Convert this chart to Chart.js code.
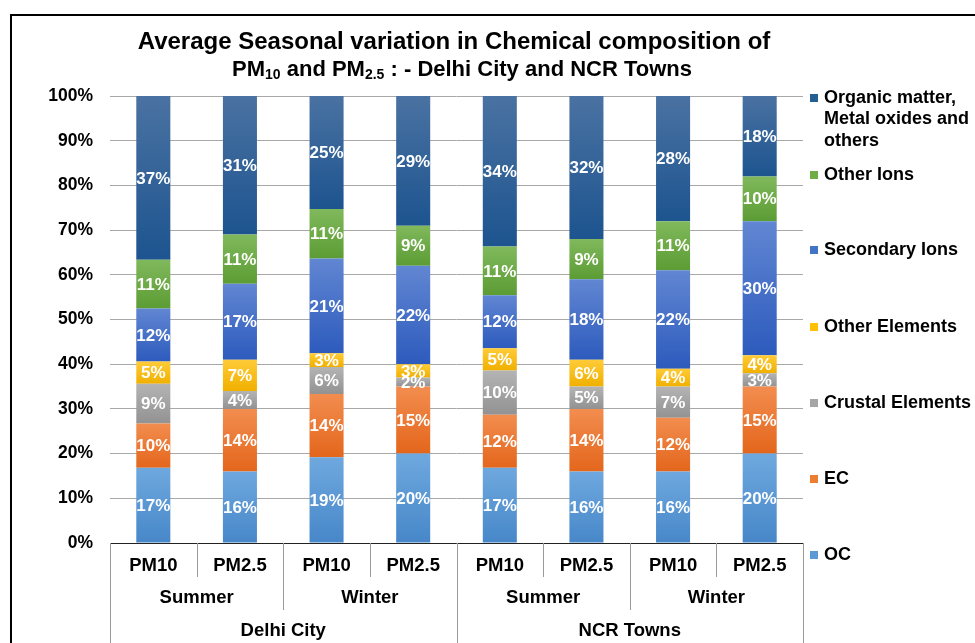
<!DOCTYPE html>
<html>
<head>
    <title>Chemical composition PM10 / PM2.5</title>
    <style>
        body { margin: 0; background: #fff; }
        canvas { display: block; }
    </style>
    <script src="https://cdn.jsdelivr.net/npm/chart.js"></script>
</head>
<body>
    <canvas id="chart" width="975" height="643"></canvas>

    <script>
        // x-axis labels, three levels
        const categories = ['PM10', 'PM2.5', 'PM10', 'PM2.5', 'PM10', 'PM2.5', 'PM10', 'PM2.5'];
        const seasons = ['Summer', 'Winter', 'Summer', 'Winter'];
        const regions = ['Delhi City', 'NCR Towns'];

        // series values (%), bottom of the stack first
        const seriesNames = ['OC', 'EC', 'Crustal Elements', 'Other Elements', 'Secondary Ions', 'Other Ions',
            'Organic matter, Metal oxides and others'];
        const oc        = [17, 16, 19, 20, 17, 16, 16, 20];
        const ec        = [10, 14, 14, 15, 12, 14, 12, 15];
        const crustal   = [9, 4, 6, 2, 10, 5, 7, 3];
        const otherElem = [5, 7, 3, 3, 5, 6, 4, 4];
        const secIons   = [12, 17, 21, 22, 12, 18, 22, 30];
        const otherIons = [11, 11, 11, 9, 11, 9, 11, 10];
        const organic   = [37, 31, 25, 29, 34, 32, 28, 18];

        const yTicks = [0, 10, 20, 30, 40, 50, 60, 70, 80, 90, 100];

        const series = [oc, ec, crustal, otherElem, secIons, otherIons, organic];
        // [top colour, bottom colour, legend colour]
        const colours = [
            ['#6ea8de', '#4787c9', '#5b9bd5'],
            ['#f28d4f', '#e4661c', '#ed7d31'],
            ['#b4b4b4', '#929292', '#a5a5a5'],
            ['#ffcb38', '#f0b000', '#ffc000'],
            ['#6186d2', '#2d5bbd', '#4472c4'],
            ['#80b95c', '#5c9c34', '#70ad47'],
            ['#4a72a2', '#1d548f', '#255e91']
        ];
        const legendLines = [
            ['OC'], ['EC'], ['Crustal Elements'], ['Other Elements'], ['Secondary Ions'], ['Other Ions'],
            ['Organic matter,', 'Metal oxides and', 'others']
        ];
        const legendY = [555, 479, 403, 327, 250, 175, 98];

        // 100% stacking: scale each bar to its total
        const totals = categories.map((c, i) => series.reduce((s, arr) => s + arr[i], 0));
        const norm = series.map(arr => arr.map((v, i) => v / totals[i] * 100));

        const FONT = '"Liberation Sans", Arial, sans-serif';

        const datasets = series.map((arr, d) => ({
            label: seriesNames[d],
            data: norm[d],
            raw: arr,
            barPercentage: 1,
            categoryPercentage: 0.393,
            backgroundColor: function (ctx) {
                const chart = ctx.chart;
                const y = chart.scales.y;
                if (!y || ctx.type !== 'data') return colours[d][2];
                const i = ctx.dataIndex;
                let start = 0;
                for (let k = 0; k < d; k++) start += norm[k][i];
                const end = start + norm[d][i];
                const y0 = y.getPixelForValue(end), y1 = y.getPixelForValue(start);
                if (!isFinite(y0) || !isFinite(y1)) return colours[d][2];
                const g = chart.ctx.createLinearGradient(0, y0, 0, y1);
                g.addColorStop(0, colours[d][0]);
                g.addColorStop(1, colours[d][1]);
                return g;
            }
        }));

        // white value labels in the middle of each segment
        const valueLabels = {
            id: 'valueLabels',
            afterDatasetsDraw(chart) {
                const ctx = chart.ctx;
                ctx.save();
                ctx.font = 'bold 17px ' + FONT;
                ctx.fillStyle = '#fff';
                ctx.textAlign = 'center';
                ctx.textBaseline = 'middle';
                chart.data.datasets.forEach((ds, d) => {
                    chart.getDatasetMeta(d).data.forEach((bar, i) => {
                        ctx.fillText(ds.raw[i] + '%', bar.x, (bar.y + bar.base) / 2 + 1);
                    });
                });
                ctx.restore();
            }
        };

        // title, multi-level x axis, legend and frame
        const decorations = {
            id: 'decorations',
            afterDraw(chart) {
                const ctx = chart.ctx;
                const x = chart.scales.x;
                const area = chart.chartArea;
                ctx.save();

                // outer frame
                ctx.strokeStyle = '#000';
                ctx.lineWidth = 2;
                ctx.beginPath();
                ctx.moveTo(11, 660);
                ctx.lineTo(11, 15);
                ctx.lineTo(990, 15);
                ctx.stroke();

                // title
                ctx.fillStyle = '#000';
                ctx.textBaseline = 'middle';
                ctx.textAlign = 'center';
                ctx.font = 'bold 24px ' + FONT;
                ctx.fillText('Average Seasonal variation in Chemical composition of', 454, 42);
                const parts = [
                    ['PM', false], ['10', true], [' and PM', false], ['2.5', true], [' : - Delhi City and NCR Towns', false]
                ];
                const big = 'bold 22px ' + FONT, small = 'bold 14px ' + FONT;
                let w = 0;
                parts.forEach(p => { ctx.font = p[1] ? small : big; w += ctx.measureText(p[0]).width; });
                let cx = 462 - w / 2;
                ctx.textAlign = 'left';
                parts.forEach(p => {
                    ctx.font = p[1] ? small : big;
                    ctx.fillText(p[0], cx, p[1] ? 75 : 70);
                    cx += ctx.measureText(p[0]).width;
                });

                // x axis line and separators
                const step = (area.right - area.left) / categories.length;
                const edge = k => Math.round(area.left + k * step) + 0.5;
                ctx.lineWidth = 1;
                ctx.strokeStyle = '#222';
                ctx.beginPath();
                ctx.moveTo(area.left, area.bottom + 0.5);
                ctx.lineTo(area.right, area.bottom + 0.5);
                ctx.stroke();
                ctx.strokeStyle = '#9a9a9a';
                for (let k = 0; k <= categories.length; k++) {
                    let len = 34;
                    if (k % 4 === 0) len = 110;
                    else if (k % 2 === 0) len = 67;
                    ctx.beginPath();
                    ctx.moveTo(edge(k), area.bottom);
                    ctx.lineTo(edge(k), area.bottom + len);
                    ctx.stroke();
                }

                // x labels
                ctx.fillStyle = '#000';
                ctx.textAlign = 'center';
                ctx.font = 'bold 18.5px ' + FONT;
                categories.forEach((c, i) => ctx.fillText(c, x.getPixelForValue(i), 566));
                seasons.forEach((s, i) => ctx.fillText(s, (x.getPixelForValue(2 * i) + x.getPixelForValue(2 * i + 1)) / 2, 598));
                regions.forEach((r, i) => ctx.fillText(r, (x.getPixelForValue(4 * i + 1) + x.getPixelForValue(4 * i + 2)) / 2, 631));

                // legend
                ctx.textAlign = 'left';
                ctx.font = 'bold 18px ' + FONT;
                legendLines.forEach((lines, d) => {
                    ctx.fillStyle = colours[d][2];
                    ctx.fillRect(810, legendY[d] - 4, 8, 8);
                    ctx.fillStyle = '#000';
                    lines.forEach((t, j) => ctx.fillText(t, 824, legendY[d] + j * 21.5));
                });

                ctx.restore();
            }
        };

        new Chart(document.getElementById('chart'), {
            type: 'bar',
            data: { labels: categories, datasets: datasets },
            options: {
                responsive: false,
                animation: false,
                layout: { padding: { left: 10, top: 96, right: 172, bottom: 100 } },
                plugins: { legend: { display: false }, tooltip: { enabled: false } },
                scales: {
                    x: { stacked: true, display: false },
                    y: {
                        stacked: true,
                        min: 0,
                        max: 100,
                        afterFit: s => { s.width = 100; },
                        afterBuildTicks: s => { s.ticks = yTicks.map(v => ({ value: v })); },
                        border: { display: false },
                        grid: { color: '#a8a8a8', drawTicks: false },
                        ticks: {
                            padding: 17,
                            color: '#000',
                            font: { family: FONT, size: 17.5, weight: 'bold' },
                            callback: v => v + '%'
                        }
                    }
                }
            },
            plugins: [valueLabels, decorations]
        });
    </script>
</body>
</html>
